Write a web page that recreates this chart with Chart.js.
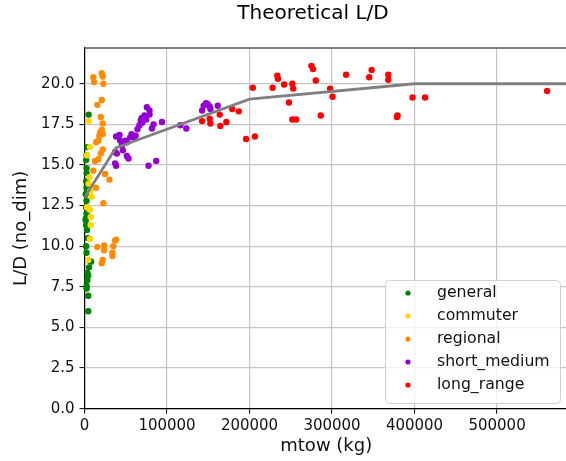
<!DOCTYPE html>
<html>
<head>
<meta charset="utf-8">
<script src="https://cdn.jsdelivr.net/npm/chart.js@4.4.1/dist/chart.umd.min.js"></script>
<style>
  html, body { margin: 0; padding: 0; background: #fff; overflow: hidden; }
  #wrap { width: 566px; height: 461px; overflow: hidden; }
</style>
</head>
<body>
<div id="wrap"><canvas id="c" width="572" height="461"></canvas></div>
<script>
/* ── Data (mtow in kg, L/D no_dim) ───────────────── */
const categories = ["general", "commuter", "regional", "short_medium", "long_range"];
const colors     = ["#008000", "#FFD700", "#FF8C00", "#9400D3", "#FF0000"];

const generalMtow = [5000, 3500, 2500, 2000, 2500, 2500, 2000, 2500, 1500, 2500, 2000, 2500, 1500, 2000, 1500, 3000, 4000, 2000, 2500, 6000, 8000, 5500, 3500, 4500, 3500, 2500, 2500, 4500, 4500];
const generalLD   = [18.1, 16.1, 15.6, 15.3, 14.8, 14.5, 14.0, 13.6, 13.2, 12.8, 12.4, 12.0, 11.7, 11.3, 11.6, 11.0, 10.5, 10.0, 9.6, 9.1, 9.05, 8.7, 8.35, 8.2, 7.9, 7.55, 7.4, 6.95, 6.0];

const commuterMtow = [5000, 6500, 3000, 6000, 5000, 7000, 8500, 3000, 6500, 7500, 7500, 6500, 4500];
const commuterLD   = [17.7, 16.1, 15.6, 14.25, 13.85, 13.4, 13.05, 12.4, 12.25, 11.8, 11.3, 10.45, 9.15];

const regionalMtow = [10700, 11500, 20900, 22100, 22900, 15600, 20900, 19700, 22100, 20900, 18800, 22100, 18000, 16800, 14000, 22100, 19700, 16800, 12800, 10700, 24900, 30200, 14000, 22900, 15600, 23700, 23700, 22100, 20900, 33800, 33800, 35000, 37100, 38300];
const regionalLD   = [20.4, 20.1, 20.65, 20.45, 20.0, 18.7, 19.0, 17.95, 17.55, 17.15, 17.0, 16.9, 16.8, 16.5, 16.4, 15.95, 15.7, 15.35, 15.25, 14.65, 14.45, 14.1, 13.6, 12.65, 9.95, 10.05, 9.75, 9.15, 8.95, 9.6, 9.4, 10.0, 10.35, 10.4];

const shortMediumMtow = [38300, 42400, 37100, 39200, 37100, 38300, 43200, 45200, 49300, 51300, 51300, 53300, 55300, 59400, 64200, 66600, 68300, 69500, 72700, 74800, 75600, 78800, 78800, 81700, 83700, 77600, 86900, 93900, 116100, 123400, 142500, 144400, 147300, 149300, 151700, 161500, 152600, 57000, 62000, 46500, 70000];
const shortMediumLD   = [16.75, 16.85, 15.8, 15.7, 15.1, 14.95, 16.5, 16.2, 16.5, 16.4, 15.55, 15.4, 16.7, 16.7, 17.2, 17.45, 17.75, 17.9, 18.05, 17.8, 18.55, 18.35, 18.1, 17.25, 17.5, 14.95, 15.25, 17.65, 17.45, 17.25, 18.35, 18.65, 18.8, 18.75, 18.6, 18.65, 18.45, 16.9, 16.8, 15.9, 17.6];

const longRangeMtow = [142500, 151700, 152600, 163900, 164700, 172000, 179000, 187000, 195800, 206500, 204000, 228000, 233700, 234400, 242000, 251900, 252900, 247800, 251900, 256500, 275000, 277000, 280300, 286300, 297600, 300600, 317100, 345100, 348000, 368200, 368200, 378700, 379400, 397600, 412800, 560700];
const longRangeLD   = [17.7, 17.85, 17.55, 18.1, 17.4, 17.65, 18.45, 18.3, 16.6, 16.75, 19.75, 19.75, 20.5, 20.3, 19.95, 20.0, 19.7, 18.85, 17.8, 17.8, 21.1, 20.9, 20.2, 18.05, 19.7, 19.2, 20.55, 20.4, 20.85, 20.55, 20.25, 17.95, 18.05, 19.15, 19.15, 19.55];

// theoretical L/D reference curve
const refMtow = [0, 38000, 65000, 200000, 400000, 650000];
const refLD   = [13.0, 16.05, 16.55, 19.05, 20.0, 20.0];

const xTicks = [0, 100000, 200000, 300000, 400000, 500000];
const yTicks = [0, 2.5, 5, 7.5, 10, 12.5, 15, 17.5, 20];

const seriesMtow = [generalMtow, commuterMtow, regionalMtow, shortMediumMtow, longRangeMtow];
const seriesLD   = [generalLD, commuterLD, regionalLD, shortMediumLD, longRangeLD];

/* ── Helpers ─────────────────────────────────────── */
const zip = (xs, ys) => xs.map((x, i) => ({ x, y: ys[i] }));
const FONT = "'DejaVu Sans', sans-serif";

const scatterSets = categories.map((name, i) => ({
  type: "scatter",
  label: name,
  data: zip(seriesMtow[i], seriesLD[i]),
  backgroundColor: colors[i],
  borderColor: colors[i],
  borderWidth: 0,
  pointRadius: 3.2,
  clip: false,
  order: categories.length - i,
}));

/* ── Title, top spine and legend box ─────────────── */
const decor = {
  id: "decor",
  afterDraw(chart) {
    const ctx = chart.ctx;
    const a = chart.chartArea;
    ctx.save();
    // top spine
    ctx.strokeStyle = "#555";
    ctx.lineWidth = 1.5;
    ctx.beginPath();
    ctx.moveTo(a.left, a.top);
    ctx.lineTo(a.right, a.top);
    ctx.stroke();

    // title
    ctx.fillStyle = "#000";
    ctx.font = "20px " + FONT;
    ctx.textAlign = "center";
    ctx.textBaseline = "middle";
    ctx.fillText("Theoretical L/D", 313, 14);

    // legend
    const bx = 385, by = 280, bw = 175, bh = 123, r = 4;
    ctx.beginPath();
    ctx.roundRect(bx + 0.5, by + 0.5, bw, bh, r);
    ctx.fillStyle = "rgba(255,255,255,0.8)";
    ctx.fill();
    ctx.strokeStyle = "#d0d0d0";
    ctx.lineWidth = 1;
    ctx.stroke();

    ctx.font = "15.7px " + FONT;
    ctx.textAlign = "left";
    categories.forEach((name, i) => {
      const y = 293 + i * 23;
      ctx.beginPath();
      ctx.arc(408, y, 2.6, 0, Math.PI * 2);
      ctx.fillStyle = colors[i];
      ctx.fill();
      ctx.fillStyle = "#111";
      ctx.fillText(name, 437, y);
    });
    ctx.restore();
  }
};

/* ── Chart ───────────────────────────────────────── */
new Chart(document.getElementById("c"), {
  data: {
    datasets: [
      {
        type: "line",
        label: "theoretical",
        data: zip(refMtow, refLD),
        borderColor: "#808080",
        borderWidth: 2.8,
        pointRadius: 0,
        fill: false,
        tension: 0,
        order: 0,
      },
      ...scatterSets,
    ]
  },
  options: {
    responsive: false,
    animation: false,
    devicePixelRatio: 1,
    layout: { padding: { top: 48, right: 0, bottom: 0, left: 0 } },
    plugins: {
      legend: { display: false },
      title: { display: false },
      tooltip: { enabled: false },
    },
    scales: {
      x: {
        type: "linear",
        min: 0,
        max: 586000,
        afterFit: s => { s.height = 52.3; },
        afterBuildTicks: s => { s.ticks = xTicks.map(v => ({ value: v })); },
        grid: { color: "#c4c4c4", lineWidth: 1.2, tickColor: "#000", tickLength: 5, tickWidth: 1 },
        border: { color: "#000", width: 1.2 },
        ticks: { color: "#111", font: { family: FONT, size: 15 }, padding: 3, maxRotation: 0, callback: v => String(v) },
        title: { display: true, text: "mtow (kg)", color: "#111", font: { family: FONT, size: 18 }, padding: { top: 0, bottom: 4 } },
      },
      y: {
        type: "linear",
        min: 0,
        max: 22.2,
        afterFit: s => { s.width = 84.5; },
        afterBuildTicks: s => { s.ticks = yTicks.map(v => ({ value: v })); },
        grid: { color: "#c4c4c4", lineWidth: 1.2, tickColor: "#000", tickLength: 5, tickWidth: 1 },
        border: { color: "#000", width: 1.2 },
        ticks: { color: "#111", font: { family: FONT, size: 15 }, padding: 5, callback: v => v.toFixed(1) },
        title: { display: true, text: "L/D (no_dim)", color: "#111", font: { family: FONT, size: 18 }, padding: { top: 11, bottom: 0 } },
      }
    }
  },
  plugins: [decor]
});
</script>
</body>
</html>
